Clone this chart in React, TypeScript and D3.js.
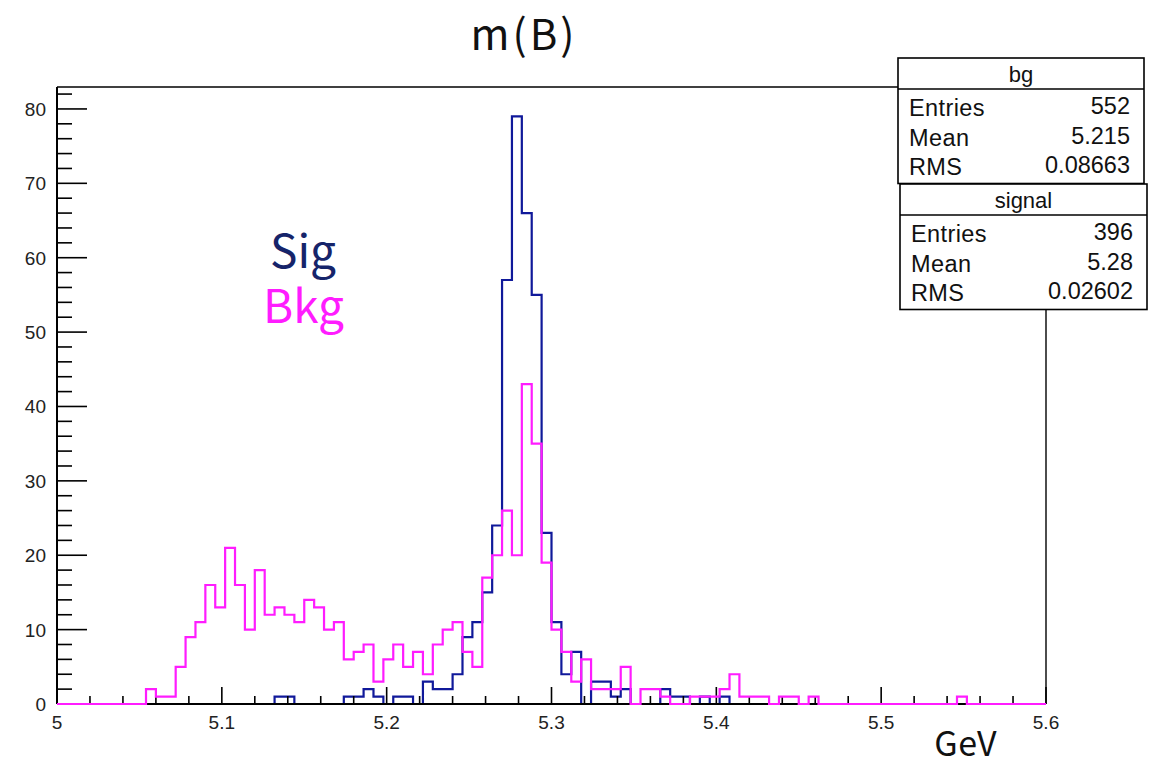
import React from "react";
import * as d3 from "d3";

// Histogram definition: 100 bins from 5.0 to 5.6 GeV
const xRange: [number, number] = [5.0, 5.6];
const nBins = 100;

// Signal histogram bin contents
const signalCounts: number[] = [
  0, 0, 0, 0, 0, 0, 0, 0, 0, 0,
  0, 0, 0, 0, 0, 0, 0, 0, 0, 0,
  0, 0, 1, 1, 0, 0, 0, 0, 0, 1,
  1, 2, 1, 0, 1, 1, 0, 3, 2, 2,
  4, 9, 11, 15, 24, 57, 79, 66, 55, 23,
  11, 4, 7, 0, 3, 3, 1, 2, 0, 0,
  0, 2, 1, 1, 0, 1, 0, 1, 0, 0,
  0, 0, 0, 0, 0, 0, 0, 0, 0, 0,
  0, 0, 0, 0, 0, 0, 0, 0, 0, 0,
  0, 0, 0, 0, 0, 0, 0, 0, 0, 0,
];

// Background histogram bin contents
const bgCounts: number[] = [
  0, 0, 0, 0, 0, 0, 0, 0, 0, 2,
  1, 1, 5, 9, 11, 16, 13, 21, 16, 10,
  18, 12, 13, 12, 11, 14, 13, 10, 11, 6,
  7, 8, 3, 6, 8, 5, 7, 4, 8, 10,
  11, 7, 5, 17, 20, 26, 20, 43, 35, 19,
  10, 7, 3, 6, 2, 2, 2, 5, 0, 2,
  2, 1, 0, 0, 1, 1, 1, 2, 4, 1,
  1, 1, 0, 1, 1, 0, 1, 0, 0, 0,
  0, 0, 0, 0, 0, 0, 0, 0, 0, 0,
  0, 1, 0, 0, 0, 0, 0, 0, 0, 0,
];

const xMajorTicks = [5, 5.1, 5.2, 5.3, 5.4, 5.5, 5.6];
const xTickLabels = ["5", "5.1", "5.2", "5.3", "5.4", "5.5", "5.6"];
const yMajorTicks = [0, 10, 20, 30, 40, 50, 60, 70, 80];

const bgStats = [
  ["Entries", "552"],
  ["Mean", "5.215"],
  ["RMS", "0.08663"],
];
const sigStats = [
  ["Entries", "396"],
  ["Mean", "5.28"],
  ["RMS", "0.02602"],
];

const W = 1158;
const H = 761;
const frame = { left: 57, right: 1046, top: 87, bottom: 704 };
const yMax = 82.95;

const SIG_COLOR = "#10199a";
const BKG_COLOR = "#ff1cff";
const ROOT_FONT = "'Liberation Sans', Arial, Helvetica, sans-serif";
const JP_FONT = "'Noto Sans CJK JP', 'Noto Sans', sans-serif";

function histPath(
  counts: number[],
  x: d3.ScaleLinear<number, number>,
  y: d3.ScaleLinear<number, number>
): string {
  const w = (xRange[1] - xRange[0]) / nBins;
  const pts: [number, number][] = [[x(xRange[0]), y(0)]];
  counts.forEach((c, i) => {
    const lo = xRange[0] + i * w;
    const hi = lo + w;
    pts.push([x(lo), y(c)]);
    pts.push([x(hi), y(c)]);
  });
  pts.push([x(xRange[1]), y(0)]);
  return d3.line()(pts) || "";
}

function StatsBox({
  x0,
  y0,
  w,
  title,
  rows,
}: {
  x0: number;
  y0: number;
  w: number;
  title: string;
  rows: string[][];
}) {
  const headerH = 31;
  const rowH = 29.5;
  const h = headerH + rows.length * rowH + 6;
  return (
    <g>
      <rect x={x0} y={y0} width={w} height={h} fill="#fff" stroke="#000" strokeWidth={1.6} />
      <line x1={x0} x2={x0 + w} y1={y0 + headerH} y2={y0 + headerH} stroke="#000" strokeWidth={1.6} />
      <text
        x={x0 + w / 2}
        y={y0 + headerH / 2 + 8}
        textAnchor="middle"
        fontFamily={ROOT_FONT}
        fontSize={22}
        fill="#111"
      >
        {title}
      </text>
      {rows.map((r, i) => (
        <g key={r[0]}>
          <text
            x={x0 + 11}
            y={y0 + headerH + 27 + i * rowH}
            fontFamily={ROOT_FONT}
            fontSize={23.5}
            letterSpacing={0.4}
            fill="#111"
          >
            {r[0]}
          </text>
          <text
            x={x0 + w - 14}
            y={y0 + headerH + 25 + i * rowH}
            textAnchor="end"
            fontFamily={ROOT_FONT}
            fontSize={23.5}
            fill="#111"
          >
            {r[1]}
          </text>
        </g>
      ))}
    </g>
  );
}

export default function App() {
  const x = d3.scaleLinear().domain(xRange).range([frame.left, frame.right]);
  const y = d3.scaleLinear().domain([0, yMax]).range([frame.bottom, frame.top]);

  const xMinor = d3.range(0, 31).map((i) => xRange[0] + i * 0.02);
  const yMinor = d3.range(0, 42).map((i) => i * 2);

  const sigPath = histPath(signalCounts, x, y);
  const bkgPath = histPath(bgCounts, x, y);

  return (
    <svg
      width={W}
      height={H}
      viewBox={`0 0 ${W} ${H}`}
      style={{ position: "absolute", left: 0, top: 0, background: "#fff" }}
    >
      <rect x={0} y={0} width={W} height={H} fill="#fff" />
      {/* signal histogram (under axes) */}
      <path d={sigPath} fill="none" stroke={SIG_COLOR} strokeWidth={2.2} />

      {/* frame */}
      <line x1={frame.left} x2={frame.right} y1={frame.top} y2={frame.top} stroke="#000" strokeWidth={1.4} />
      <line x1={frame.right} x2={frame.right} y1={frame.top} y2={frame.bottom} stroke="#000" strokeWidth={1.4} />

      {/* axes */}
      <line x1={frame.left} x2={frame.right} y1={frame.bottom} y2={frame.bottom} stroke="#000" strokeWidth={2} />
      <line x1={frame.left} x2={frame.left} y1={frame.top} y2={frame.bottom} stroke="#000" strokeWidth={2} />

      {xMinor.map((t, i) => (
        <line
          key={"xm" + i}
          x1={x(t)}
          x2={x(t)}
          y1={frame.bottom}
          y2={frame.bottom - (i % 5 === 0 ? 17 : 8)}
          stroke="#000"
          strokeWidth={1.6}
        />
      ))}
      {yMinor.map((t, i) => (
        <line
          key={"ym" + i}
          x1={frame.left}
          x2={frame.left + (t % 10 === 0 ? 30 : 15)}
          y1={y(t)}
          y2={y(t)}
          stroke="#000"
          strokeWidth={1.6}
        />
      ))}

      {xMajorTicks.map((t, i) => (
        <text
          key={"xl" + i}
          x={x(t)}
          y={729}
          textAnchor="middle"
          fontFamily={ROOT_FONT}
          fontSize={19}
          fill="#222"
        >
          {xTickLabels[i]}
        </text>
      ))}
      {yMajorTicks.map((t) => (
        <text
          key={"yl" + t}
          x={46}
          y={y(t) + 7}
          textAnchor="end"
          fontFamily={ROOT_FONT}
          fontSize={19}
          fill="#222"
        >
          {t}
        </text>
      ))}

      {/* background histogram (drawn with "same", on top) */}
      <path d={bkgPath} fill="none" stroke={BKG_COLOR} strokeWidth={2.2} />

      {/* stats boxes */}
      <StatsBox x0={898} y0={58} w={246} title="bg" rows={bgStats} />
      <StatsBox x0={900} y0={184} w={247} title="signal" rows={sigStats} />

      {/* titles */}
      <text x={524} y={50} textAnchor="middle" fontFamily={JP_FONT} fontSize={42} letterSpacing={3} fill="#111">
        m(B)
      </text>
      <text x={997} y={756} textAnchor="end" fontFamily={JP_FONT} fontSize={34} letterSpacing={0.5} fill="#111">
        GeV
      </text>
      <text x={270} y={268} fontFamily={JP_FONT} fontSize={46} fill="#16246a">
        Sig
      </text>
      <text x={263} y={323} fontFamily={JP_FONT} fontSize={46} fill={BKG_COLOR}>
        Bkg
      </text>
    </svg>
  );
}
